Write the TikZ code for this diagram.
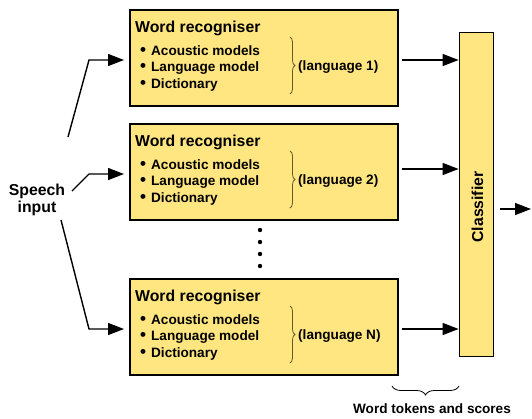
\documentclass[tikz,border=0pt]{standalone}
\usepackage{fontspec}
\setmainfont{Liberation Sans}
\usetikzlibrary{arrows.meta,decorations.pathreplacing}
\definecolor{recyellow}{RGB}{255,230,128}
\definecolor{braceolive}{RGB}{105,90,40}

\begin{document}
\begin{tikzpicture}[x=1pt, y=-1pt,
    recbox/.style={draw, line width=1.8pt, fill=recyellow, minimum width=268pt, minimum height=96pt, inner sep=0pt, anchor=north west},
    arr/.style={-{Triangle[length=16pt,width=12pt]}, line width=1.4pt},
    lbl/.style={font=\fontsize{13.6}{16.5}\selectfont\bfseries, inner sep=0pt},
    big/.style={font=\fontsize{15.8}{17}\selectfont\bfseries, inner sep=0pt}]
    \useasboundingbox (0,0) rectangle (532,418);

    % Word recognisers, one per language
    \foreach \i/\y/\lang/\ly/\ry in {1/8/1/60/60, 2/122/2/174/169, 3/277/N/329/329} {
        \node[recbox] (r\i) at (129,\y+1) {};
        \node[big, anchor=base west] (t\i) at (135,\y+24) {Word recogniser};
        \foreach \entry [count=\k] in {Acoustic models,Language model,Dictionary} {
            \node[lbl, anchor=base west] (b\i\k) at (140,\y+30.5+16.5*\k) {{\fontsize{17}{17}\selectfont\textbullet}\hspace{5pt}\entry};
        }
        \draw[braceolive, line width=0.8pt, decorate, decoration={brace, amplitude=5pt}] (290,\y+29) -- (290,\y+86);
        \node[lbl, anchor=west] (g\i) at (298,\y+59) {(language \lang)};
        \coordinate (k\i) at (89,\ly);
        \coordinate (o\i) at (398,\ry);
    }

    % Dots between recognisers
    \foreach \d in {0,...,3} {
        \fill (260,230+12*\d) circle (2.2pt);
    }

    % Classifier
    \node[draw, line width=1.8pt, fill=recyellow, minimum width=34pt, minimum height=324pt, inner sep=0pt] (cls) at (476.5,194.5) {};
    \node[big, rotate=90] (clabel) at (477.5,207) {Classifier};

    % Speech input
    \node[big, align=center] (sp) at (37,200) {Speech\\input};
    \coordinate (a1) at (68,137);
    \coordinate (a2) at (72,191);
    \coordinate (a3) at (61,220);
    \foreach \i in {1,2,3} {
        \draw[arr, shorten >=5pt] (a\i) -- (k\i) -- (k\i -| r\i.west);
        \draw[arr, shorten <=4pt] (o\i) -- (o\i -| cls.west);
    }

    % Output
    \coordinate (fin) at (531,209);
    \draw[arr, shorten <=6pt] (cls.east |- fin) -- (fin);

    % Word tokens and scores
    \draw[line width=0.8pt, decorate, decoration={brace, amplitude=9pt}] (459,386) -- (392,386);
    \node[lbl] (wt) at (432,409) {Word tokens and scores};
\end{tikzpicture}
\end{document}
